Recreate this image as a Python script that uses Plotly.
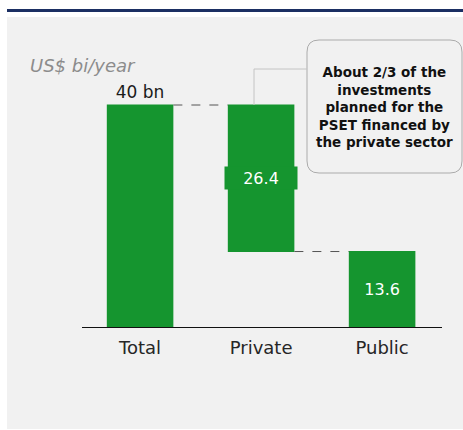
import plotly.graph_objects as go

# Waterfall data: total investment split into private and public shares
categories = ["Total", "Private", "Public"]
values = [40.0, 26.4, 13.6]
bar_labels = ["40 bn", "26.4", "13.6"]
unit_label = "US$ bi/year"
callout_text = "About 2/3 of the<br>investments<br>planned for the<br>PSET financed by<br>the private sector"

GREEN = "#15952F"
FONT = "DejaVu Sans"

# pixel geometry of the plot area (used for paper-coordinate decorations)
W, H = 463, 430
L, R, T, B = 82, 21, 60, 103
PW, PH = W - L - R, H - T - B


def px_x(p):
    return (p - L) / PW


def px_y(p):
    return (H - B - p) / PH


measures = ["absolute", "relative", "relative"]
steps = [values[0], -values[1], -values[2]]
texts = [bar_labels[0], "", bar_labels[2]]

fig = go.Figure()
fig.add_trace(go.Waterfall(
    x=categories,
    y=steps,
    measure=measures,
    width=0.55,
    text=texts,
    textposition=["outside", "inside", "inside"],
    insidetextanchor="middle",
    textfont=dict(family=FONT, size=16),
    insidetextfont=dict(family=FONT, size=16, color="white"),
    outsidetextfont=dict(family=FONT, size=17, color="#1a1a1a"),
    increasing=dict(marker=dict(color=GREEN)),
    decreasing=dict(marker=dict(color=GREEN)),
    totals=dict(marker=dict(color=GREEN)),
    connector=dict(mode="between", line=dict(color="#555555", width=1, dash="dash")),
    cliponaxis=False,
    hoverinfo="skip",
))

# label of the private bar on its own green tab
fig.add_annotation(
    x=categories[1], y=values[0] - values[1] / 2, xref="x", yref="y",
    text=bar_labels[1], showarrow=False,
    font=dict(family=FONT, size=16, color="white"),
    bgcolor=GREEN, width=70, height=20,
)

shapes = []
# grey panel and navy top rule
shapes.append(dict(type="rect", xref="paper", yref="paper", layer="below",
                   x0=px_x(7), x1=px_x(470), y0=px_y(429), y1=px_y(17),
                   fillcolor="#F1F1F1", line=dict(width=0)))
shapes.append(dict(type="line", xref="paper", yref="paper",
                   x0=px_x(7), x1=px_x(470), y0=px_y(10.5), y1=px_y(10.5),
                   line=dict(color="#1B2F63", width=3)))

# rounded callout box
x0, x1, y0, y1 = px_x(307), px_x(462), px_y(173), px_y(40)
rx, ry = 12 / PW, 12 / PH
path = (f"M {x0+rx},{y0} L {x1-rx},{y0} Q {x1},{y0} {x1},{y0+ry} "
        f"L {x1},{y1-ry} Q {x1},{y1} {x1-rx},{y1} "
        f"L {x0+rx},{y1} Q {x0},{y1} {x0},{y1-ry} "
        f"L {x0},{y0+ry} Q {x0},{y0} {x0+rx},{y0} Z")
shapes.append(dict(type="path", xref="paper", yref="paper", path=path,
                   fillcolor="#F1F1F1", line=dict(color="#ABABAB", width=1)))

# leader line from the callout to the top of the private bar
lead_x = px_x(254)
lead_y = px_y(69)
shapes.append(dict(type="line", xref="paper", yref="paper",
                   x0=x0, x1=lead_x, y0=lead_y, y1=lead_y,
                   line=dict(color="#C4C4C4", width=1)))
shapes.append(dict(type="line", xref="paper", yref="y",
                   x0=lead_x, x1=lead_x, y0=values[0], y1=values[0] + 6.5,
                   line=dict(color="#C4C4C4", width=1)))

fig.update_layout(shapes=shapes)

fig.add_annotation(
    x=(x0 + x1) / 2, y=(y0 + y1) / 2, xref="paper", yref="paper",
    xanchor="center", yanchor="middle",
    text=f"<b>{callout_text}</b>", showarrow=False, align="center",
    font=dict(family=FONT, size=13.5, color="#111111"),
)

fig.add_annotation(
    x=px_x(28), y=px_y(65), xref="paper", yref="paper",
    text=f"<i>{unit_label}</i>", showarrow=False, xanchor="left", yanchor="middle",
    font=dict(family=FONT, size=18, color="#8C8C8C"),
)

fig.update_layout(
    width=W, height=H,
    margin=dict(l=L, r=R, t=T, b=B),
    paper_bgcolor="white",
    plot_bgcolor="rgba(0,0,0,0)",
    showlegend=False,
    xaxis=dict(range=[-0.48, 2.495], showline=True, linecolor="#111111", linewidth=1,
               showgrid=False, zeroline=False, ticks="", ticklabelstandoff=4,
               tickfont=dict(family=FONT, size=18, color="#262626")),
    yaxis=dict(range=[0, PH / 5.55], visible=False, showgrid=False, zeroline=False),
)

fig.write_html("out.html")
